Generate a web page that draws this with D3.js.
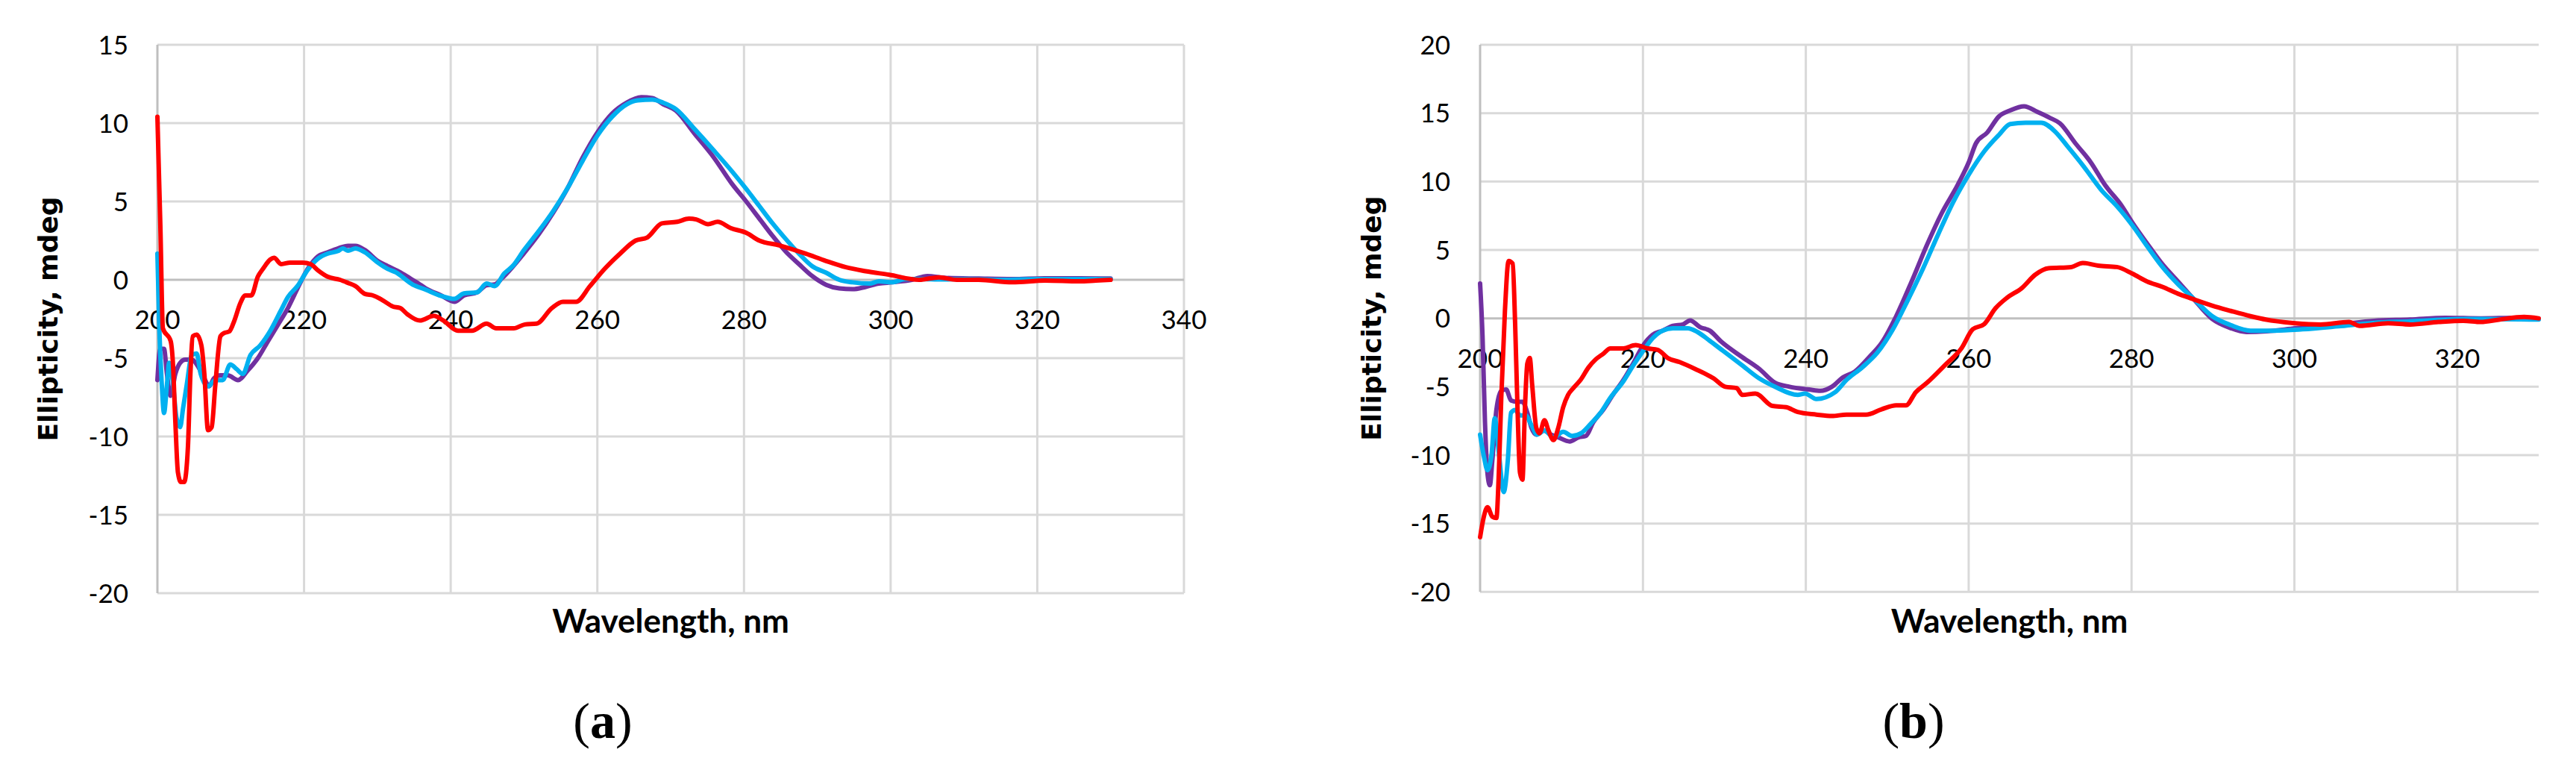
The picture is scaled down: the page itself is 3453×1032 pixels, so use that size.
<!DOCTYPE html>
<html>
<head>
<meta charset="utf-8">
<script src="https://cdn.jsdelivr.net/npm/d3@7"></script>
<style>
  body { margin: 0; background: #fff; }
  svg { display: block; }
</style>
</head>
<body>
<svg id="chart" width="3453" height="1032"></svg>
<script>
// CD spectra, two panels. values are [wavelength nm, ellipticity mdeg]
var xTicksA = [200, 220, 240, 260, 280, 300, 320, 340];
var yTicksA = [-20, -15, -10, -5, 0, 5, 10, 15];
var xTicksB = [200, 220, 240, 260, 280, 300, 320];
var yTicksB = [-20, -15, -10, -5, 0, 5, 10, 15, 20];

var purpleA = [[200, -6.4], [200.4, -4.4], [200.9, -4.4], [201.3, -6.0], [201.8, -7.4], [202.45, -6.0],
  [203.1, -5.3], [203.8, -5.1], [204.7, -5.1], [205.5, -5.5], [206.4, -6.3], [207.05, -6.8], [207.7, -6.3],
  [208.6, -6.1], [209.6, -6.1], [211.0, -6.4], [212.3, -5.8], [213.7, -5.0], [215.1, -3.9], [216.4, -2.9],
  [217.8, -1.8], [219.1, -0.55], [220.5, 0.7], [221.9, 1.5], [223.2, 1.75], [224.6, 2.0], [226, 2.17],
  [227, 2.17], [228.3, 1.9], [230.05, 1.2], [231.4, 0.87], [233.1, 0.48], [234.5, 0.08], [235.5, -0.2],
  [236.6, -0.55], [238.7, -1.0], [240.5, -1.4], [241.8, -1.0], [243.6, -0.8], [244.9, -0.35], [246.0, -0.3],
  [247, 0.1], [250, 1.7], [252, 2.9], [254, 4.3], [256, 5.9], [258, 7.8], [260, 9.4], [262, 10.6],
  [264, 11.3], [266, 11.65], [267.5, 11.6], [269, 11.2], [270.7, 10.8], [273.3, 9.3], [275.8, 7.86],
  [278.4, 6.1], [280.3, 5.0], [282.1, 3.9], [283.9, 2.8], [285.7, 1.8], [287.5, 1.0], [289.3, 0.24],
  [291.2, -0.32], [293, -0.55], [294.8, -0.6], [296.6, -0.45], [298.4, -0.24], [300.2, -0.16], [302.9, 0],
  [305, 0.24], [307.5, 0.12], [312, 0.08], [316.6, 0.05], [321, 0.1], [325.7, 0.1], [330, 0.08]];

var cyanA = [[200, 1.67], [200.24, -2.8], [200.6, -6.7], [200.9, -8.5], [201.3, -6.7], [201.6, -5.3],
  [202.1, -6.5], [202.6, -8.8], [203.1, -9.4], [203.5, -8.2], [204.0, -6.7], [204.7, -4.8], [205.35, -4.7],
  [205.9, -6.0], [206.9, -6.8], [207.9, -6.4], [208.9, -6.4], [209.95, -5.4], [210.8, -5.7], [211.65, -6.0],
  [212.7, -4.8], [214.0, -4.2], [215.4, -3.25], [216.8, -2.0], [217.8, -1.1], [219.1, -0.4], [220.5, 0.63],
  [221.9, 1.35], [223.2, 1.67], [224.6, 1.83], [225.3, 2.0], [226.0, 1.86], [227.0, 2.0], [228.3, 1.75],
  [230.05, 1.1], [231.4, 0.7], [232.5, 0.48], [234.8, -0.3], [236.6, -0.63], [238.7, -1.03], [240.5, -1.22],
  [241.8, -0.87], [243.6, -0.8], [244.9, -0.24], [246.0, -0.4], [247.3, 0.4], [248.5, 0.9], [250, 1.9],
  [252, 3.1], [254, 4.4], [256, 5.9], [258, 7.6], [260, 9.2], [262, 10.4], [264, 11.2], [265.5, 11.45],
  [267.5, 11.5], [269, 11.3], [270.7, 10.9], [273.3, 9.6], [275.8, 8.3], [278.4, 6.9], [280.3, 5.8],
  [282.1, 4.7], [283.9, 3.6], [285.7, 2.6], [287.5, 1.67], [289.3, 0.87], [291.2, 0.45], [293.0, 0.0],
  [294.8, -0.16], [297.1, -0.24], [298.4, -0.1], [300.2, -0.16], [302, 0.05], [304, 0.05], [307, 0.02],
  [310, 0.05], [315, 0.0], [320, 0.05], [325, 0.05], [330, 0.05]];

var redA = [[200, 10.4], [200.4, 3.5], [200.75, -3.1], [201.8, -3.9], [202.1, -5.2], [202.45, -9.1],
  [202.8, -12.3], [203.2, -12.9], [203.65, -12.9], [204.16, -10.7], [204.5, -6.0], [204.84, -3.6],
  [205.35, -3.5], [206.0, -4.2], [206.4, -6.0], [206.9, -9.6], [207.4, -9.4], [207.9, -6.7], [208.6, -3.6],
  [209.1, -3.4], [209.8, -3.3], [210.5, -2.6], [211.3, -1.5], [212.0, -1.0], [212.8, -1.0], [213.7, 0.2],
  [214.4, 0.7], [215.4, 1.3], [215.9, 1.4], [216.9, 1.0], [218.1, 1.1], [219.8, 1.1], [220.9, 1.0],
  [221.9, 0.6], [223.2, 0.2], [224.9, 0.0], [226.0, -0.2], [227.0, -0.4], [228.3, -0.9], [229.4, -1.0],
  [230.7, -1.3], [232.1, -1.7], [233.1, -1.8], [234.1, -2.2], [235.8, -2.6], [237.7, -2.3], [239.0, -2.6],
  [241.0, -3.25], [242.9, -3.25], [244.9, -2.8], [246.2, -3.1], [248.6, -3.1], [250.1, -2.85], [251.7, -2.8],
  [253.8, -1.8], [255.3, -1.4], [257.1, -1.4], [259.0, -0.4], [261.0, 0.7], [263.1, 1.67], [265.2, 2.5],
  [266.8, 2.7], [268.8, 3.6], [270.9, 3.7], [272.5, 3.9], [273.5, 3.85], [275.1, 3.55], [276.4, 3.7],
  [278.2, 3.3], [280.3, 3.0], [282.1, 2.5], [284.8, 2.2], [288.4, 1.67], [291.2, 1.2], [293.9, 0.8],
  [296.6, 0.55], [299.8, 0.32], [303.9, 0.0], [306.6, 0.16], [309, 0.0], [312, 0.0], [316.6, -0.16],
  [321.1, -0.05], [325.7, -0.1], [328, -0.05], [330, 0.0]];

var purpleB = [[200, 2.55], [200.3, -1.3], [200.6, -7.6], [200.9, -11.3], [201.2, -12.2], [201.5, -10.4],
  [202.0, -6.7], [202.6, -5.3], [203.2, -5.2], [203.8, -6.0], [204.6, -6.1], [205.2, -6.1], [205.8, -6.9],
  [206.3, -8.0], [206.9, -8.5], [207.8, -8.2], [208.7, -8.5], [209.6, -8.7], [211.0, -9.0], [212.1, -8.7],
  [213.0, -8.6], [213.9, -7.6], [215.1, -6.7], [216.3, -5.6], [217.6, -4.5], [218.8, -3.3], [220.0, -2.0],
  [221.2, -1.2], [222.4, -0.9], [223.7, -0.55], [224.9, -0.45], [225.8, -0.15], [227.0, -0.64], [228.2, -0.9],
  [229.6, -1.7], [232.0, -2.76], [234.3, -3.7], [236.2, -4.7], [238.0, -5.0], [240.4, -5.2], [241.8, -5.3],
  [243.2, -5.0], [244.6, -4.3], [246.0, -3.9], [247.9, -2.76], [249.3, -1.8], [251.1, 0.16], [253.0, 2.7],
  [254.9, 5.4], [256.7, 7.7], [258.6, 9.7], [260.0, 11.4], [260.9, 12.8], [262.3, 13.6], [263.7, 14.75],
  [265.1, 15.2], [266.8, 15.5], [268.4, 15.1], [270.0, 14.65], [271.2, 14.26], [273.1, 12.8], [275.0, 11.4],
  [276.8, 9.7], [278.7, 8.3], [280.1, 7.0], [282.0, 5.4], [283.8, 3.95], [285.7, 2.7], [287.5, 1.5],
  [289.9, -0.04], [292.2, -0.72], [294.1, -1.0], [296.6, -0.95], [300.1, -0.73], [305.4, -0.45],
  [309.8, -0.18], [314.2, -0.09], [318.5, 0.04], [322.9, 0.0], [327.3, 0.04], [330, -0.05]];

var cyanB = [[200, -8.5], [200.5, -10.2], [200.9, -11.1], [201.4, -10.0], [201.8, -7.3], [202.3, -9.8],
  [202.9, -12.7], [203.4, -10.4], [203.8, -6.9], [204.3, -6.7], [204.9, -7.1], [205.6, -7.1], [206.3, -7.8],
  [207.0, -8.5], [207.9, -8.2], [209.0, -8.7], [210.2, -8.3], [211.3, -8.6], [212.4, -8.4], [213.6, -7.7],
  [214.8, -6.9], [216.0, -5.8], [217.6, -4.6], [218.8, -3.45], [220.0, -2.4], [221.2, -1.45], [222.4, -0.9],
  [223.7, -0.73], [225.5, -0.73], [226.7, -1.0], [228.2, -1.64], [229.8, -2.36], [232.0, -3.35], [234.3, -4.4],
  [236.2, -5.0], [239.0, -5.6], [239.9, -5.5], [241.3, -5.9], [243.6, -5.4], [245.0, -4.5], [246.9, -3.6],
  [248.8, -2.5], [250.7, -0.8], [252.5, 1.3], [254.4, 3.65], [256.3, 6.2], [258.1, 8.5], [260.0, 10.5],
  [261.9, 12.2], [263.7, 13.4], [265.1, 14.2], [267.0, 14.3], [268.9, 14.3], [270.7, 13.6], [272.1, 12.6],
  [274.0, 11.2], [276.4, 9.3], [278.2, 8.2], [280.1, 6.8], [282.0, 5.2], [283.8, 3.75], [285.7, 2.5],
  [287.5, 1.5], [289.9, 0.16], [292.2, -0.5], [294.6, -0.9], [297.4, -0.9], [301.0, -0.8], [305.4, -0.58],
  [309.8, -0.33], [314.2, -0.22], [318.5, -0.09], [322.9, -0.04], [330, -0.09]];

var redB = [[200, -16.0], [200.46, -14.5], [200.9, -13.8], [201.5, -14.5], [202.0, -14.6], [202.3, -11.3],
  [202.6, -5.8], [203.05, 0.55], [203.5, 4.2], [204.0, 4.0], [204.3, -0.36], [204.6, -6.7], [204.9, -11.3],
  [205.2, -11.8], [205.5, -6.7], [205.8, -3.3], [206.1, -2.9], [206.4, -4.9], [206.9, -8.0], [207.3, -8.4],
  [207.9, -7.45], [208.4, -8.2], [209.0, -8.9], [209.6, -8.0], [210.2, -6.5], [210.8, -5.6], [211.45, -5.1],
  [212.4, -4.45], [213.3, -3.6], [214.2, -3.0], [215.1, -2.6], [216.0, -2.2], [217.6, -2.2], [219.1, -1.96],
  [220.6, -2.2], [221.8, -2.3], [223.05, -2.9], [224.5, -3.2], [226.4, -3.7], [228.7, -4.4], [230.1, -5.0],
  [231.5, -5.1], [232.2, -5.6], [233.8, -5.5], [235.9, -6.4], [237.6, -6.5], [239.0, -6.85], [241.3, -7.04],
  [243.2, -7.14], [245.0, -7.04], [247.4, -7.04], [249.3, -6.65], [251.1, -6.36], [252.3, -6.36], [253.5, -5.4],
  [254.9, -4.7], [257.2, -3.35], [259.1, -2.2], [260.5, -0.8], [261.9, -0.43], [263.3, 0.74], [264.7, 1.5],
  [266.5, 2.2], [268.2, 3.2], [269.8, 3.66], [272.6, 3.75], [274.0, 4.05], [275.9, 3.85], [278.2, 3.75],
  [280.1, 3.27], [281.9, 2.7], [283.8, 2.3], [285.7, 1.8], [287.5, 1.42], [289.9, 0.93], [292.2, 0.54],
  [294.6, 0.16], [296.6, -0.1], [300.1, -0.36], [303.2, -0.45], [306.7, -0.27], [308.0, -0.55], [311.5, -0.36],
  [314.2, -0.45], [317.7, -0.27], [320.7, -0.18], [322.9, -0.27], [325.1, -0.1], [328.2, 0.1], [330, 0.0]];

var gridColor = "#d9d9d9";
var axisColor = "#bfbfbf";
var tickFont = "Lato, Carlito, Calibri, sans-serif";

var svg = d3.select("#chart");

function drawPanel(p) {
  var x = d3.scaleLinear().domain(p.xDomain).range(p.xRange);
  var y = d3.scaleLinear().domain(p.yDomain).range(p.yRange);
  var g = svg.append("g");

  // vertical grid
  g.selectAll(".vgrid")
      .data(p.vGrid)
      .enter().append("line")
      .attr("x1", function(d) { return x(d); })
      .attr("x2", function(d) { return x(d); })
      .attr("y1", y(p.yDomain[1]))
      .attr("y2", y(p.yDomain[0]))
      .attr("stroke", gridColor)
      .attr("stroke-width", 3);

  // horizontal grid
  g.selectAll(".hgrid")
      .data(p.yTicks.filter(function(d) { return d !== 0; }))
      .enter().append("line")
      .attr("x1", x(p.xDomain[0]))
      .attr("x2", x(p.xDomain[1]))
      .attr("y1", function(d) { return y(d); })
      .attr("y2", function(d) { return y(d); })
      .attr("stroke", gridColor)
      .attr("stroke-width", 3);

  // axis lines
  g.append("line")
      .attr("x1", x(p.xDomain[0])).attr("x2", x(p.xDomain[0]))
      .attr("y1", y(p.yDomain[1])).attr("y2", y(p.yDomain[0]))
      .attr("stroke", axisColor).attr("stroke-width", 3);
  g.append("line")
      .attr("x1", x(p.xDomain[0])).attr("x2", x(p.xDomain[1]))
      .attr("y1", y(0)).attr("y2", y(0))
      .attr("stroke", axisColor).attr("stroke-width", 3);

  // tick labels
  g.selectAll(".ylab")
      .data(p.yTicks)
      .enter().append("text")
      .attr("x", p.yLabelX)
      .attr("y", function(d) { return y(d); })
      .attr("dy", "0.36em")
      .attr("text-anchor", "end")
      .attr("font-family", tickFont)
      .attr("font-size", 35)
      .attr("fill", "#000")
      .text(function(d) { return d; });

  g.selectAll(".xlab")
      .data(p.xTicks)
      .enter().append("text")
      .attr("x", function(d) { return x(d); })
      .attr("y", y(0) + 66)
      .attr("text-anchor", "middle")
      .attr("font-family", tickFont)
      .attr("font-size", 35)
      .attr("fill", "#000")
      .text(function(d) { return d; });

  // spectra
  var line = d3.line()
      .x(function(d) { return x(d[0]); })
      .y(function(d) { return y(d[1]); })
      .curve(d3.curveMonotoneX);

  p.series.forEach(function(s) {
    g.append("path")
        .datum(s.values)
        .attr("d", line)
        .attr("fill", "none")
        .attr("stroke", s.color)
        .attr("stroke-width", 6)
        .attr("stroke-linejoin", "round")
        .attr("stroke-linecap", "round");
  });

  // titles
  g.append("text")
      .attr("transform", "translate(" + p.yTitleX + "," + (p.yRange[0] + p.yRange[1]) / 2 + ") rotate(-90)")
      .attr("dy", "0.36em")
      .attr("text-anchor", "middle")
      .attr("font-family", "DejaVu Sans, Verdana, sans-serif")
      .attr("font-weight", "bold")
      .attr("font-size", 36)
      .text("Ellipticity, mdeg");

  g.append("text")
      .attr("x", (p.xRange[0] + p.xRange[1]) / 2)
      .attr("y", 848)
      .attr("text-anchor", "middle")
      .attr("font-family", tickFont)
      .attr("font-weight", "bold")
      .attr("font-size", 44)
      .text("Wavelength, nm");

  var cap = g.append("text")
      .attr("x", p.capX)
      .attr("y", 989)
      .attr("text-anchor", "middle")
      .attr("font-family", "Liberation Serif, Times New Roman, serif")
      .attr("font-size", 68);
  cap.append("tspan").text("(");
  cap.append("tspan").attr("font-weight", "bold").text(p.letter);
  cap.append("tspan").text(")");
}

drawPanel({
  xDomain: [200, 340], xRange: [211, 1587],
  yDomain: [-20, 15], yRange: [795, 60],
  xTicks: xTicksA, yTicks: yTicksA,
  vGrid: xTicksA.slice(1),
  yLabelX: 172, yTitleX: 64, capX: 808, letter: "a",
  series: [
    {values: purpleA, color: "#7030A0"},
    {values: cyanA, color: "#00B0F0"},
    {values: redA, color: "#FF0000"}
  ]
});

drawPanel({
  xDomain: [200, 330], xRange: [1984, 3403],
  yDomain: [-20, 20], yRange: [793.3, 60],
  xTicks: xTicksB, yTicks: yTicksB,
  vGrid: xTicksB.slice(1),
  yLabelX: 1944, yTitleX: 1838, capX: 2565, letter: "b",
  series: [
    {values: purpleB, color: "#7030A0"},
    {values: cyanB, color: "#00B0F0"},
    {values: redB, color: "#FF0000"}
  ]
});
</script>
</body>
</html>
